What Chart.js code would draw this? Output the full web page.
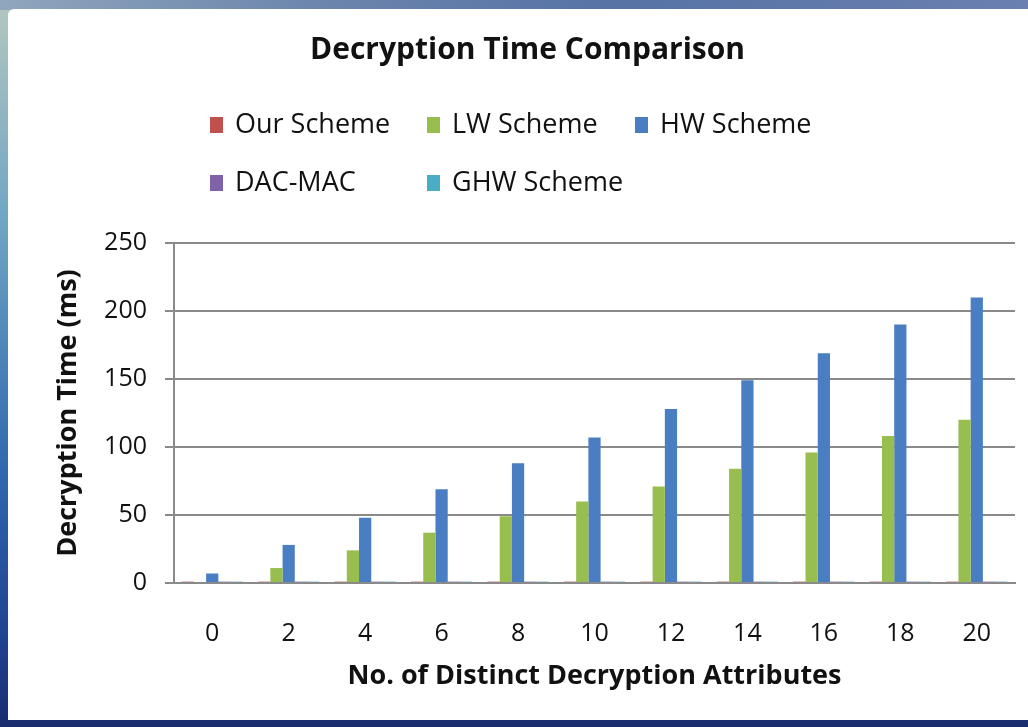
<!DOCTYPE html>
<html>
<head>
<meta charset="utf-8">
<title>Decryption Time Comparison</title>
<script src="https://cdn.jsdelivr.net/npm/chart.js@4.4.1/dist/chart.umd.min.js"></script>
<style>
  html, body { margin: 0; padding: 0; }
  body {
    width: 1028px; height: 727px; overflow: hidden; position: relative;
    background: linear-gradient(to bottom, #b5c7bf 0%, #6fa6c4 30%, #2f68ad 65%, #1d3f8c 90%, #1a2c6c 100%);
  }
  #topband {
    position: absolute; left: 0; top: 0; width: 1028px; height: 10px;
    background: linear-gradient(to right, #8fa6bd 0%, #6d86ad 30%, #5672a6 60%, #6b80b0 100%);
  }
  #panel {
    position: absolute; left: 8px; top: 9px; width: 1020px; height: 711px;
    background: #ffffff; border-top-left-radius: 6px;
  }
  #wrap { position: absolute; left: 0; top: 0; width: 1028px; height: 727px; }
</style>
</head>
<body>
<div id="topband"></div>
<div id="panel"></div>
<div id="wrap"><canvas id="chart"></canvas></div>
<script>
// Number of distinct decryption attributes
const attributes = ['0', '2', '4', '6', '8', '10', '12', '14', '16', '18', '20'];

// Decryption time (ms) per scheme
const ourScheme = [1, 1, 1, 1, 1, 1, 1, 1, 1, 1, 1];
const lwScheme  = [0, 11, 24, 37, 49, 60, 71, 84, 96, 108, 120];
const hwScheme  = [7, 28, 48, 69, 88, 107, 128, 149, 169, 190, 210];
const dacMac    = [1, 1, 1, 1, 1, 1, 1, 1, 1, 1, 1];
const ghwScheme = [1, 1, 1, 1, 1, 1, 1, 1, 1, 1, 1];

const seriesNames = ['Our Scheme', 'LW Scheme', 'HW Scheme', 'DAC-MAC', 'GHW Scheme'];
const seriesColors = ['#c0504d', '#98be50', '#4a7ec2', '#7f62a8', '#4bacc6'];

const FONT = '"Open Sans", "DejaVu Sans", sans-serif';
const TEXT = '#111111';
const GRID = '#8a8a8a';

// Legend laid out as a fixed three-column grid under the title
const gridLegend = {
  id: 'gridLegend',
  afterDraw(chart) {
    const ctx = chart.ctx;
    const cols = [210, 427, 635];
    const rows = [125, 183];
    ctx.save();
    ctx.font = '27px ' + FONT;
    ctx.textBaseline = 'middle';
    ctx.textAlign = 'left';
    chart.data.datasets.forEach((ds, i) => {
      const x = cols[i % 3];
      const y = rows[Math.floor(i / 3)];
      ctx.fillStyle = ds.backgroundColor;
      ctx.fillRect(x, y - 8, 13, 16);
      ctx.fillStyle = TEXT;
      ctx.fillText(ds.label, x + 25, y);
    });
    ctx.restore();
  }
};

const seriesValues = [ourScheme, lwScheme, hwScheme, dacMac, ghwScheme];

new Chart(document.getElementById('chart'), {
  type: 'bar',
  data: {
    labels: attributes,
    datasets: seriesValues.map((vals, i) => ({
      label: seriesNames[i],
      data: vals,
      backgroundColor: seriesColors[i],
      borderWidth: 0,
      categoryPercentage: 0.8,
      barPercentage: 1.0
    }))
  },
  options: {
    responsive: true,
    maintainAspectRatio: false,
    animation: false,
    layout: { padding: { left: 40, right: 13, top: 0, bottom: 0 } },
    plugins: {
      legend: { display: false },
      tooltip: { enabled: false },
      title: {
        display: true,
        text: 'Decryption Time Comparison',
        color: TEXT,
        font: { family: FONT, size: 30, weight: 'bold' },
        padding: { top: 32, bottom: 175 }
      }
    },
    scales: {
      x: {
        grid: { display: false },
        border: { display: true, color: GRID, width: 2 },
        ticks: { color: TEXT, font: { family: FONT, size: 25 }, padding: 28 },
        title: {
          display: true,
          text: 'No. of Distinct Decryption Attributes',
          color: TEXT,
          font: { family: FONT, size: 27, weight: 'bold' },
          padding: { top: 0, bottom: 34.8 }
        },
        afterFit(scale) { scale.height = 144; }
      },
      y: {
        min: 0,
        max: 250,
        ticks: { stepSize: 50, color: TEXT, font: { family: FONT, size: 25 }, padding: 18 },
        grid: { color: GRID, lineWidth: 2, tickLength: 9 },
        border: { display: true, color: GRID, width: 2 },
        title: {
          display: true,
          text: 'Decryption Time (ms)',
          color: TEXT,
          font: { family: FONT, size: 27, weight: 'bold' },
          padding: { top: 11.8, bottom: 0 }
        },
        afterFit(scale) { scale.width = 134; }
      }
    }
  },
  plugins: [gridLegend]
});
</script>
</body>
</html>
